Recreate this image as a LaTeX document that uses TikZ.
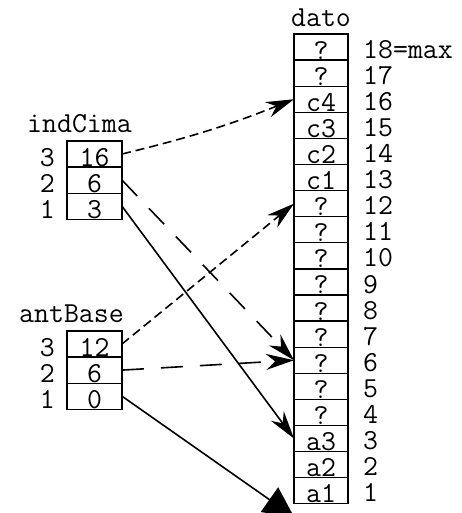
\documentclass[tikz,border=0pt]{standalone}
\usetikzlibrary{positioning, arrows.meta}

\begin{document}
\begin{tikzpicture}[x=1pt,y=-1pt]
\tikzstyle{every node}+=[inner sep=0pt, text height=18pt, text depth=0pt, font=\ttfamily\fontsize{29}{31}\selectfont]
\tikzstyle{cell}=[draw, line width=1.3pt, outer sep=0pt, minimum width=54pt, minimum height=26.1pt, text height=24pt, text depth=0pt]
\tikzstyle{ptr}=[black, line width=1.6pt, -{Stealth[length=28pt,width=16pt]}]
\tikzstyle{shortdash}=[dash pattern=on 9pt off 5pt]
\tikzstyle{longdash}=[dash pattern=on 22pt off 17pt]
\useasboundingbox (0,0) rectangle (462,513);
\node [cell] (d18) at (321,47.05) {?};
\node [cell, below=0pt of d18] (d17) {?};
\node [cell, below=0pt of d17] (d16) {c4};
\node [cell, below=0pt of d16] (d15) {c3};
\node [cell, below=0pt of d15] (d14) {c2};
\node [cell, below=0pt of d14] (d13) {c1};
\node [cell, below=0pt of d13] (d12) {?};
\node [cell, below=0pt of d12] (d11) {?};
\node [cell, below=0pt of d11] (d10) {?};
\node [cell, below=0pt of d10] (d9) {?};
\node [cell, below=0pt of d9] (d8) {?};
\node [cell, below=0pt of d8] (d7) {?};
\node [cell, below=0pt of d7] (d6) {?};
\node [cell, below=0pt of d6] (d5) {?};
\node [cell, below=0pt of d5] (d4) {?};
\node [cell, below=0pt of d4] (d3) {a3};
\node [cell, below=0pt of d3] (d2) {a2};
\node [cell, below=0pt of d2] (d1) {a1};
\node [anchor=base] (dato) at ([yshift=7pt]d18.north) {dato};
\node [anchor=base west] (n18) at ([xshift=15pt,yshift=2pt]d18.south east) {18=max};
\node [anchor=base west] (n17) at ([xshift=15pt,yshift=2pt]d17.south east) {17};
\node [anchor=base west] (n16) at ([xshift=15pt,yshift=2pt]d16.south east) {16};
\node [anchor=base west] (n15) at ([xshift=15pt,yshift=2pt]d15.south east) {15};
\node [anchor=base west] (n14) at ([xshift=15pt,yshift=2pt]d14.south east) {14};
\node [anchor=base west] (n13) at ([xshift=15pt,yshift=2pt]d13.south east) {13};
\node [anchor=base west] (n12) at ([xshift=15pt,yshift=2pt]d12.south east) {12};
\node [anchor=base west] (n11) at ([xshift=15pt,yshift=2pt]d11.south east) {11};
\node [anchor=base west] (n10) at ([xshift=15pt,yshift=2pt]d10.south east) {10};
\node [anchor=base west] (n9) at ([xshift=15pt,yshift=2pt]d9.south east) {9};
\node [anchor=base west] (n8) at ([xshift=15pt,yshift=2pt]d8.south east) {8};
\node [anchor=base west] (n7) at ([xshift=15pt,yshift=2pt]d7.south east) {7};
\node [anchor=base west] (n6) at ([xshift=15pt,yshift=2pt]d6.south east) {6};
\node [anchor=base west] (n5) at ([xshift=15pt,yshift=2pt]d5.south east) {5};
\node [anchor=base west] (n4) at ([xshift=15pt,yshift=2pt]d4.south east) {4};
\node [anchor=base west] (n3) at ([xshift=15pt,yshift=2pt]d3.south east) {3};
\node [anchor=base west] (n2) at ([xshift=15pt,yshift=2pt]d2.south east) {2};
\node [anchor=base west] (n1) at ([xshift=15pt,yshift=2pt]d1.south east) {1};
\node [cell, minimum width=55pt] (i3) at (94.5,154) {16};
\node [cell, minimum width=55pt, below=0pt of i3] (i2) {6};
\node [cell, minimum width=55pt, below=0pt of i2] (i1) {3};
\node [anchor=base] (indCima) at ([xshift=-15pt,yshift=8pt]i3.north) {indCima};
\node [anchor=base east] (ni3) at ([xshift=-12pt,yshift=1pt]i3.south west) {3};
\node [anchor=base east] (ni2) at ([xshift=-12pt,yshift=1pt]i2.south west) {2};
\node [anchor=base east] (ni1) at ([xshift=-12pt,yshift=1pt]i1.south west) {1};
\node [cell, minimum width=55pt] (a3) at (94.5,344) {12};
\node [cell, minimum width=55pt, below=0pt of a3] (a2) {6};
\node [cell, minimum width=55pt, below=0pt of a2] (a1) {0};
\node [anchor=base] (antBase) at ([xshift=-23pt,yshift=8pt]a3.north) {antBase};
\node [anchor=base east] (na3) at ([xshift=-12pt,yshift=1pt]a3.south west) {3};
\node [anchor=base east] (na2) at ([xshift=-12pt,yshift=1pt]a2.south west) {2};
\node [anchor=base east] (na1) at ([xshift=-12pt,yshift=1pt]a1.south west) {1};
\coordinate (d0) at ([yshift=-26.1pt]d1.west);
\draw [ptr, shortdash] (i3.east) to[bend right=4] (d16.west);
\draw [ptr, longdash] (i2.east) -- (d6.west);
\draw [ptr] (i1.east) -- (d3.west);
\draw [ptr, shortdash] (a3.east) -- (d12.west);
\draw [ptr, longdash] (a2.east) -- (d6.west);
\draw [black, line width=1.6pt, -{Triangle[length=30pt,width=30pt]}] (a1.east) -- (d0);
\end{tikzpicture}
\end{document}
